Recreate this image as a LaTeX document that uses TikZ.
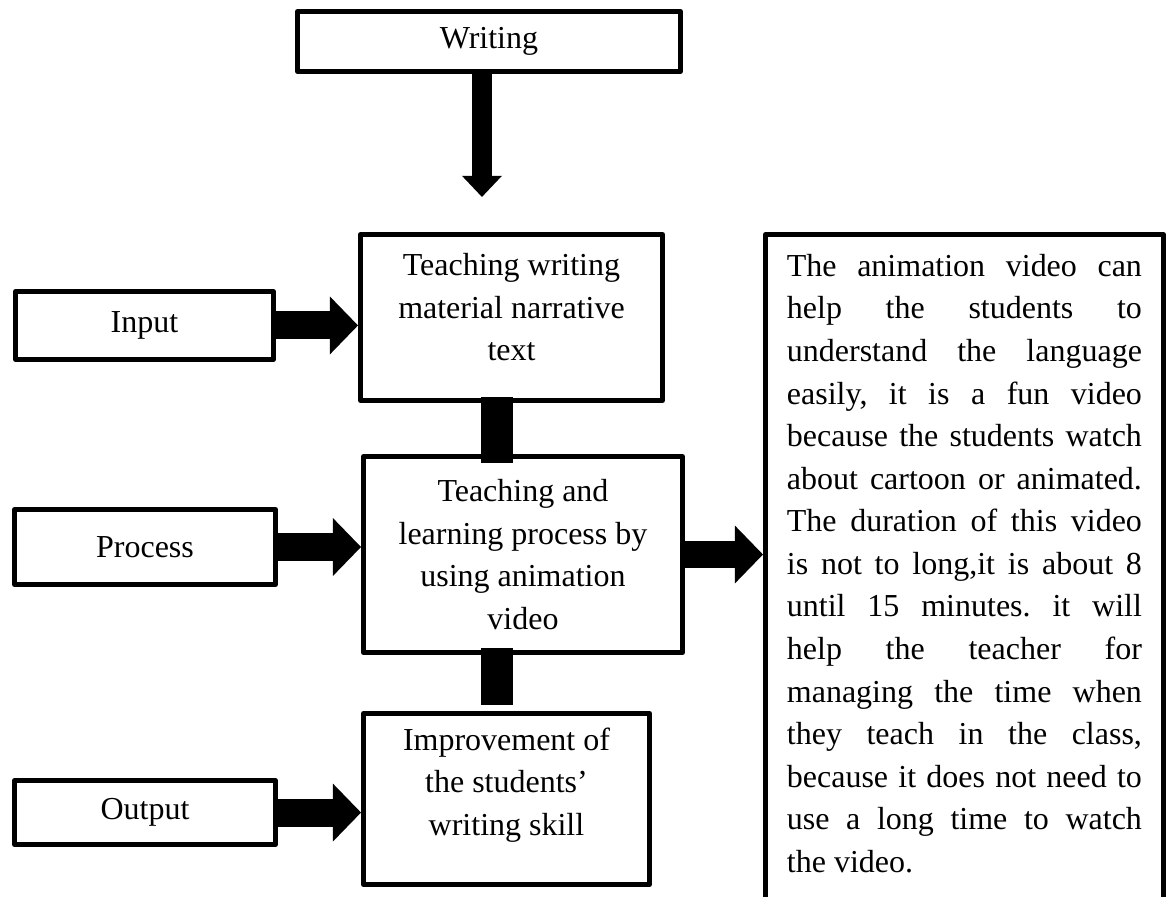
\documentclass[tikz,border=0pt]{standalone}
\usepackage{fontspec}
\setmainfont{Liberation Serif}
\usetikzlibrary{arrows.meta,positioning}

\newcommand{\botpad}[1]{\rule[-#1]{0pt}{#1}}

\begin{document}
\begin{tikzpicture}[on grid,
    every node/.style={font=\fontsize{11.65pt}{15.5pt}\selectfont},
    box/.style={draw, line width=1.8pt, line join=round, align=center, inner sep=0pt},
    desc/.style={draw, line width=1.8pt, line join=round, anchor=north west,
      text width=4.544cm, align=justify, inner xsep=0.275cm, inner ysep=0.253cm, text depth=9cm},
    blk/.style={line width=0.358cm, -{Triangle[length=0.36cm, width=0.742cm, line width=0pt]}},
    down/.style={line width=0.25cm, -{Triangle[length=0.27cm, width=0.512cm, line width=0pt]}},
    link/.style={line width=0.40cm}]
   \useasboundingbox (0,0) rectangle (14.9504,11.4688);

   \node[box, minimum width=4.902cm, minimum height=0.768cm] (w) at (6.259,10.938) {Writing};
   \node[box, minimum width=3.866cm, minimum height=2.125cm] (tw) [below right=3.533cm and 0.288cm of w]
     {Teaching writing\\material narrative\\text\botpad{0.27cm}};
   \node[box, minimum width=4.083cm, minimum height=2.509cm] (mid) [below right=3.034cm and 0.147cm of tw]
     {Teaching and\\learning process by\\using animation\\video};
   \node[box, minimum width=3.661cm, minimum height=2.189cm] (imp) [below left=3.130cm and 0.211cm of mid]
     {Improvement of\\the students’\\writing skill\botpad{0.45cm}};

   \node[box, minimum width=3.302cm, minimum height=0.870cm] (in) [below left=0.102cm and 4.698cm of tw] {Input};
   \node[box, minimum width=3.341cm, minimum height=0.960cm] (pro) [above left=0.096cm and 4.838cm of mid] {Process};
   \node[box, minimum width=3.341cm, minimum height=0.819cm] (out) [below left=0.173cm and 4.627cm of imp] {Output};

   \node[desc] (d) at (9.766,8.499) {\frenchspacing\tolerance=10000\hbadness=10000\hyphenpenalty=10000
     The animation video can\linebreak
     help the students to\linebreak
     understand the language\linebreak
     easily, it is a fun video\linebreak
     because the students watch\linebreak
     about cartoon or animated.\linebreak
     The duration of this video\linebreak
     is not to long,it is about 8\linebreak
     until 15 minutes. it will\linebreak
     help the teacher for\linebreak
     managing the time when\linebreak
     they teach in the class,\linebreak
     because it does not need to\linebreak
     use a long time to watch\linebreak
     the video.};

   \coordinate[below left=1.99cm and 0.09cm of w] (wt);
   \coordinate[right=0.102cm of w] (sp);

   \path[down] (w.south -| wt) edge (wt);

   \path[blk] (in.east) edge (in.east -| tw.west);
   \path[blk] (pro.east) edge (pro.east -| mid.west);
   \path[blk] (out.east) edge (out.east -| imp.west);
   \path[blk] (mid.east) edge (mid.east -| d.west);

   \path[link] (tw.south -| sp) edge [shorten <=-0.077cm, shorten >=-0.11cm] (mid.north -| sp);
   \path[link] (mid.south -| sp) edge [shorten <=-0.09cm, shorten >=0.077cm] (imp.north -| sp);
\end{tikzpicture}
\end{document}
